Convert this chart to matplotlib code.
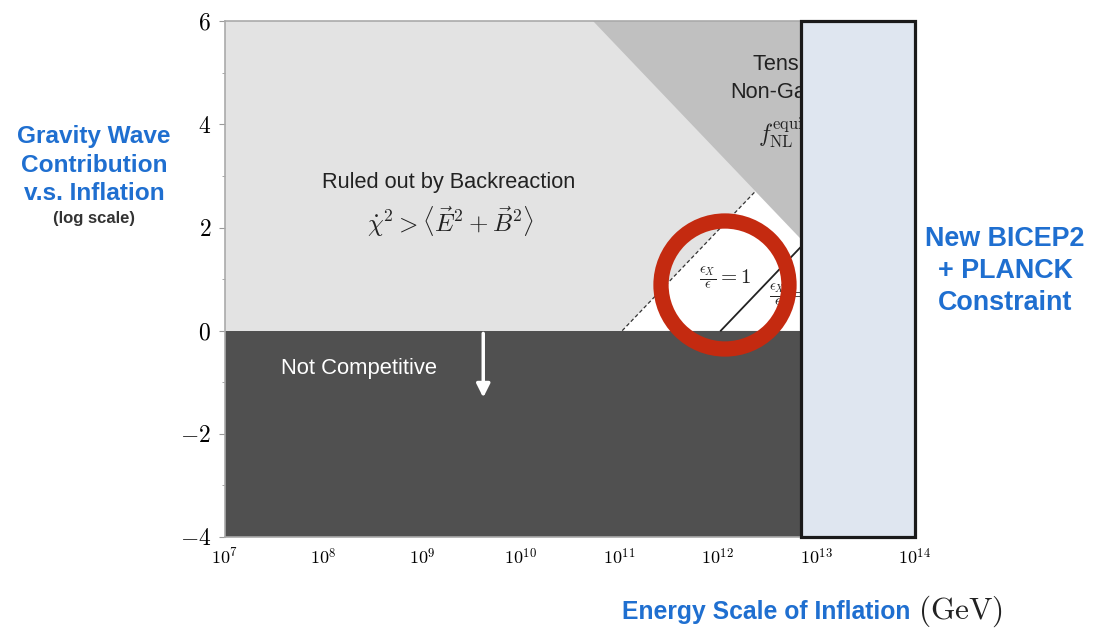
import matplotlib
matplotlib.use("Agg")
import matplotlib.pyplot as plt
from matplotlib.patches import Rectangle, Polygon, Ellipse
from matplotlib.ticker import MultipleLocator, FixedLocator

plt.rcParams["mathtext.fontset"] = "cm"
plt.rcParams["font.family"] = ["Liberation Sans", "DejaVu Sans"]

# data (log10 of energy in GeV, log of gravity wave contribution)
x_ticks = [7, 8, 9, 10, 11, 12, 13, 14]
y_ticks = [-4, -2, 0, 2, 4, 6]
bicep_limit = 12.84          # new BICEP2 + Planck upper bound on energy scale
backreaction_x = [11.03, 12.38]   # dashed boundary, eps_X/eps = 1
backreaction_y = [0.0, 2.70]
solid_x = [12.03, 12.84]
solid_y = [0.0, 1.62]
nongauss_x = [10.73, 12.84]       # tensor non-gaussianity boundary
nongauss_y = [6.0, 1.78]

blue = "#1f6fd0"
E = lambda v: 10.0 ** v

fig = plt.figure(figsize=(11.04, 6.29), dpi=100)
ax = fig.add_axes([0.2038, 0.1463, 0.625, 0.820])
ax.set_xscale("log")
ax.set_xlim(E(7), E(14))
ax.set_ylim(-4, 6)

# regions
ax.add_patch(Rectangle((E(7), 0), E(14) - E(7), 6, facecolor="#e3e3e3", edgecolor="none", zorder=1))
ax.add_patch(Rectangle((E(7), -4), E(14) - E(7), 4, facecolor="#505050", edgecolor="none", zorder=2))
white_pts = [(E(backreaction_x[0]), backreaction_y[0]), (E(backreaction_x[1]), backreaction_y[1]),
             (E(nongauss_x[1]), nongauss_y[1]), (E(bicep_limit), 0)]
ax.add_patch(Polygon(white_pts, closed=True, facecolor="white", edgecolor="none", zorder=1.5))
ng_pts = [(E(nongauss_x[0]), nongauss_y[0]), (E(14), 6), (E(14), nongauss_y[1]), (E(nongauss_x[1]), nongauss_y[1])]
ax.add_patch(Polygon(ng_pts, closed=True, facecolor="#c0c0c0", edgecolor="none", zorder=1.6))

ax.plot([E(v) for v in backreaction_x], backreaction_y, ls=(0, (3, 2)), color="#333333", lw=0.9, zorder=3)
ax.plot([E(v) for v in solid_x], solid_y, color="#222222", lw=1.3, zorder=3)

# labels inside
ax.text(E(9.27), 2.88, "Ruled out by Backreaction", ha="center", va="center", fontsize=15.7, color="#222222", zorder=4)
ax.text(E(9.29), 2.12, r"$\dot{\chi}^2 > \langle \vec{E}^2 + \vec{B}^2 \rangle$", ha="center", va="center",
        fontsize=18, color="#222222", zorder=4)
ax.text(E(12.36), 5.17, "Tension with", ha="left", va="center", fontsize=15.7, color="#222222", zorder=4)
ax.text(E(12.13), 4.62, "Non-Gaussianity", ha="left", va="center", fontsize=15.7, color="#222222", zorder=4)
ax.text(E(12.41), 3.85, r"$f_{\rm NL}^{\rm equil}$", ha="left", va="center", fontsize=17, color="#222222", zorder=4)
ax.text(E(12.07), 1.02, r"$\frac{\epsilon_X}{\epsilon} = 1$", ha="center", va="center", fontsize=15,
        color="#222222", zorder=4)
ax.text(E(12.52), 0.69, r"$\frac{\epsilon_X}{\epsilon} = 10$", ha="left", va="center", fontsize=15,
        color="#222222", zorder=4)
ax.text(E(7.57), -0.73, "Not Competitive", ha="left", va="center", fontsize=15.8, color="white", zorder=4)
ax.annotate("", xy=(E(9.62), -1.35), xytext=(E(9.62), 0.0),
            arrowprops=dict(arrowstyle="-|>", color="white", lw=2.5, mutation_scale=20), zorder=4)

# BICEP2 + Planck box
ax.add_patch(Rectangle((E(bicep_limit), -4), E(14) - E(bicep_limit), 10, facecolor="#dfe6f0",
                       edgecolor="#1a1a1a", lw=2.3, zorder=6, clip_on=False))

# red circle
fig.patches.append(Ellipse((725 / 1104, 1 - 285 / 629), 128 / 1104, 128 / 629, transform=fig.transFigure,
                           facecolor="none", edgecolor="#c42a10", lw=11, zorder=10))

# axes styling
ax.xaxis.set_major_locator(FixedLocator([E(v) for v in x_ticks]))
ax.xaxis.set_minor_locator(FixedLocator([]))
ax.set_xticklabels([r"$10^{%d}$" % v for v in x_ticks], fontsize=13)
ax.set_yticks(y_ticks)
ax.set_yticklabels([r"$%d$" % v for v in y_ticks], fontsize=17)
ax.yaxis.set_minor_locator(MultipleLocator(1))
ax.tick_params(axis="both", which="both", color="#999999", direction="out")
ax.tick_params(axis="y", which="major", length=4, pad=6)
ax.tick_params(axis="y", which="minor", length=2)
ax.tick_params(axis="x", which="major", length=0, pad=8)
for s in ["left", "bottom", "top"]:
    ax.spines[s].set_color("#aaaaaa")
    ax.spines[s].set_linewidth(1.2)
ax.spines["right"].set_visible(False)

# outer labels
fig.text(94 / 1104, 1 - 165 / 629, "Gravity Wave\nContribution\nv.s. Inflation", ha="center", va="center",
         fontsize=17.6, fontweight="bold", color=blue, linespacing=1.32)
fig.text(94 / 1104, 1 - 218 / 629, "(log scale)", ha="center", va="center", fontsize=12,
         fontweight="bold", color="#333333")
fig.text(1005 / 1104, 1 - 271 / 629, "New BICEP2\n+ PLANCK\nConstraint", ha="center", va="center",
         fontsize=19.4, fontweight="bold", color=blue, linespacing=1.28)
fig.text(910 / 1104, 1 - 612 / 629, "Energy Scale of Inflation", ha="right", va="center", fontsize=17.8,
         fontweight="bold", color=blue)
fig.text(918 / 1104, 1 - 611 / 629, r"$(\mathrm{GeV})$", ha="left", va="center", fontsize=22.5, color="#222222")

fig.savefig("out.png", dpi=100)
